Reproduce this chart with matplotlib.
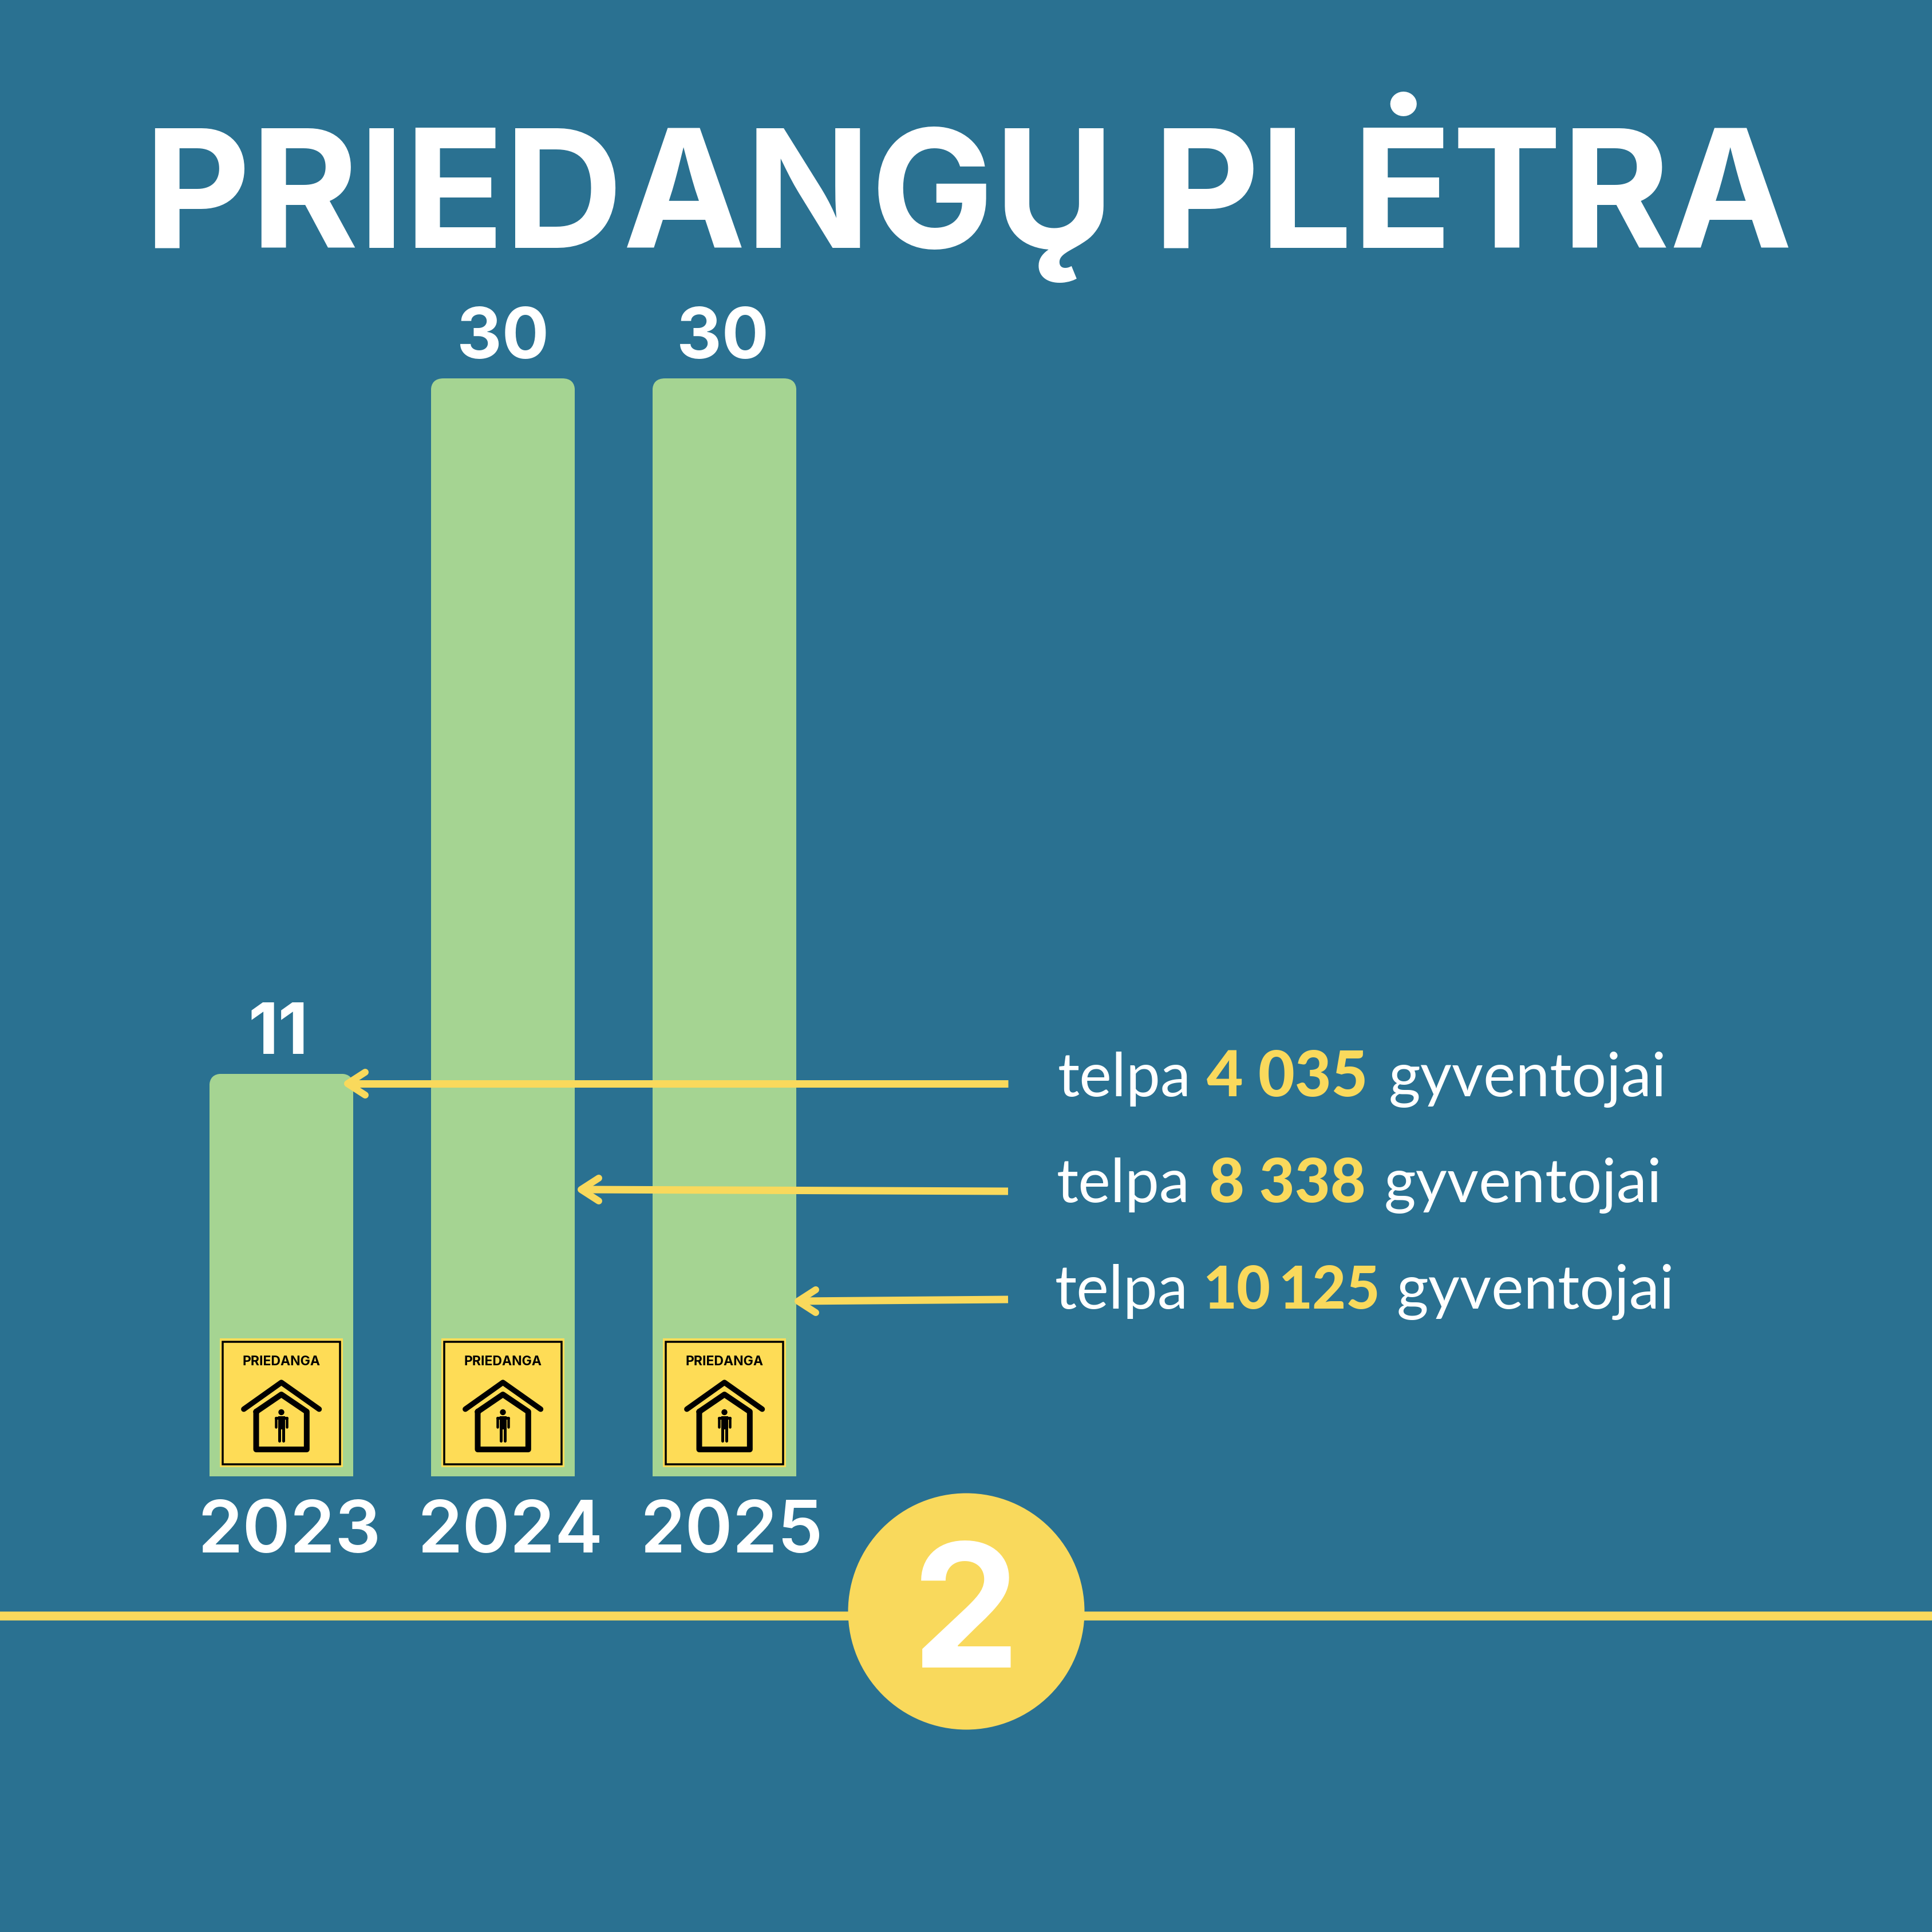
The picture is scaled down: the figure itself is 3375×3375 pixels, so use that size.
import matplotlib.pyplot as plt
from matplotlib.patches import Circle, Rectangle
from matplotlib.path import Path

years = ["2023", "2024", "2025"]
shelters = [11, 30, 30]
capacity = [["4 035"], ["8 338"], ["10", "125"]]

BG = "#2a7191"
GREEN = "#a5d492"
YELLOW = "#f9d95c"
BADGE = "#fedc56"
W = 3375
PT = 72 / 300  # one output pixel in points

bar_centers = [491.5, 878.5, 1265.5]
year_centers = [505, 891, 1278]
value_centers = [486, 878, 1263]

# x start of the text pieces per row
telpa_x = [1848, 1846, 1843]
gyv_x = [2426, 2418, 2440]
num_x = [[2108], [2112], [2102, 2234]]
num_size = [110, 107, 102]
text_base = [1915, 2100, 2286]
# arrow tip x, tip y, tail y
arrows = [(607, 1893, 1893), (1015, 2078, 2081), (1394, 2273, 2270)]

fig = plt.figure(figsize=(11.25, 11.25), dpi=300, facecolor=BG)

# bars live on their own axes, y runs 0-30
ax = fig.add_axes([298 / W, 1 - 2579 / W, 1161 / W, 1918 / W], zorder=1)
ax.set_xlim(-0.5, 2.5)
ax.set_ylim(0, 30)
ax.axis("off")
bars = ax.bar(range(3), shelters, width=0.65, color=GREEN, linewidth=0)

# round the top corners of the bars
rx, ry = 22 / 387, 22 / (1918 / 30)
for bar in bars:
    x0, x1 = bar.get_x(), bar.get_x() + bar.get_width()
    h = bar.get_height()
    verts = [(x0, 0), (x0, h - ry), (x0, h), (x0 + rx, h), (x1 - rx, h), (x1, h), (x1, h - ry), (x1, 0), (x0, 0)]
    codes = [Path.MOVETO, Path.LINETO, Path.CURVE3, Path.CURVE3, Path.LINETO, Path.CURVE3, Path.CURVE3, Path.LINETO, Path.CLOSEPOLY]
    bar.set_clip_path(Path(verts, codes), ax.transData)

# overlay in output pixels for the annotations
ov = fig.add_axes([0, 0, 1, 1], zorder=2)
ov.set_xlim(0, W)
ov.set_ylim(W, 0)
ov.axis("off")


def label(x, y, s, size_px, color="white", family="Inter", weight="bold", ha="center", zorder=3):
    ov.text(x, y, s, fontsize=size_px * PT, color=color, family=[family, "DejaVu Sans"], fontweight=weight, ha=ha, va="baseline", zorder=zorder)


def draw_badge(cx):
    ov.add_patch(Rectangle((cx - 108, 2338), 215, 225, fc=BADGE, ec="none"))
    ov.add_patch(Rectangle((cx - 103, 2344), 205, 214, fc="none", ec="black", lw=3.5 * PT))
    label(cx, 2385, "PRIEDANGA", 23, color="black")

    def z(zx, zy):
        return cx + (zx - 450) / 3, 2300 + zy / 3

    def stroke(points, lw, closed=False):
        pts = [z(*p) for p in points]
        if closed:
            pts.append(pts[0])
        ov.plot(*zip(*pts), color="black", lw=lw * PT, solid_capstyle="round", solid_joinstyle="round")

    stroke([(253, 485), (450, 345), (648, 485)], 9.5)
    stroke([(318, 498), (450, 408), (583, 498), (583, 696), (318, 696)], 10, closed=True)
    # person inside the house
    ov.add_patch(Circle(z(450, 501), 5.2, fc="black", ec="none"))
    stroke([(422, 530), (478, 530)], 5)
    stroke([(422, 530), (422, 580)], 4.5)
    stroke([(478, 530), (478, 580)], 4.5)
    x_t, y_t = z(432, 522)
    ov.add_patch(Rectangle((x_t, y_t), 38 / 3, 70 / 3, fc="black", ec="none"))
    stroke([(440, 590), (440, 652)], 5)
    stroke([(461, 590), (461, 652)], 5)


label(1692, 433, "PRIEDANGŲ PLĖTRA", 287)

for cx, xv, xy, year, v in zip(bar_centers, value_centers, year_centers, years, shelters):
    draw_badge(cx)
    label(xv, 2579 - v * 1918 / 30 - 35, str(v), 122)
    label(xy, 2712, year, 126, weight="semibold")

for i, (tx, ty0, ty1) in enumerate(arrows):
    base = text_base[i]
    ov.plot([tx, 1761], [ty0, ty1], color=YELLOW, lw=13 * PT, solid_capstyle="butt")
    ov.plot([tx + 31, tx, tx + 31], [ty0 - 20, ty0, ty0 + 20], color=YELLOW, lw=12 * PT, solid_capstyle="round", solid_joinstyle="round")
    label(telpa_x[i], base, "telpa", 107, family="Lato", weight="normal", ha="left")
    for piece, px in zip(capacity[i], num_x[i]):
        label(px, base, piece, num_size[i], color=YELLOW, family="Lato", weight="black", ha="left")
    label(gyv_x[i], base, "gyventojai", 107, family="Lato", weight="normal", ha="left")

# timeline with the step number
ov.plot([0, W], [2823, 2823], color=YELLOW, lw=15.5 * PT, solid_capstyle="butt")
ov.add_patch(Circle((1688, 2815), 206.5, fc=YELLOW, ec="none", zorder=3))
label(1687, 2913, "2", 300, weight="bold", zorder=4)

fig.savefig("out.png", dpi=300, facecolor=BG)
plt.close(fig)
